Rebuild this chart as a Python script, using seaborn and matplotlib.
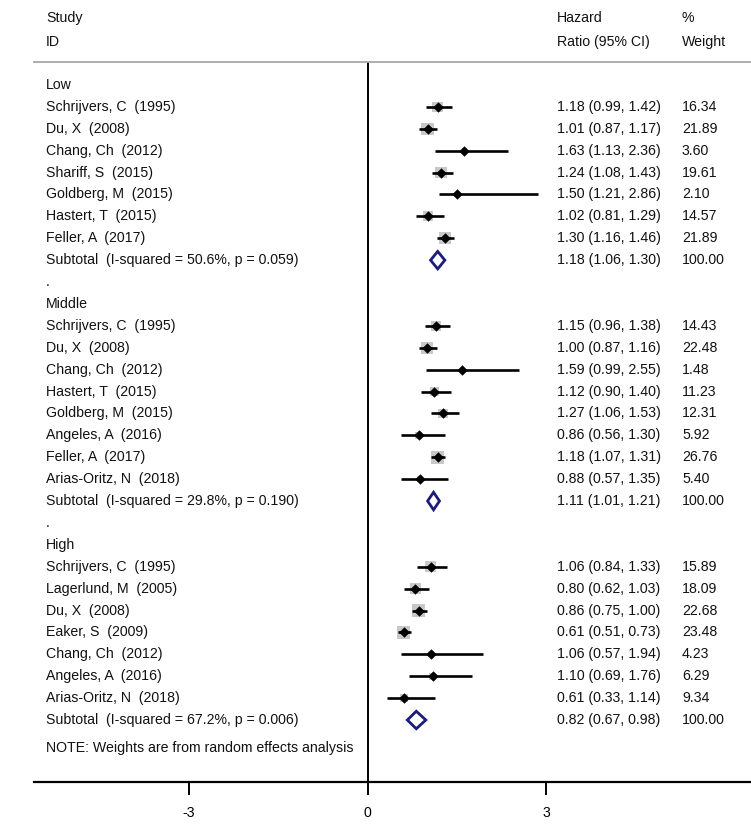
import numpy as np
import pandas as pd
import matplotlib
matplotlib.use("Agg")
import matplotlib.pyplot as plt
import seaborn as sns
from matplotlib.patches import Polygon

# ---- data ----
low_studies = ["Schrijvers, C  (1995)", "Du, X  (2008)", "Chang, Ch  (2012)", "Shariff, S  (2015)",
               "Goldberg, M  (2015)", "Hastert, T  (2015)", "Feller, A  (2017)"]
low_hr = [1.18, 1.01, 1.63, 1.24, 1.50, 1.02, 1.30]
low_lo = [0.99, 0.87, 1.13, 1.08, 1.21, 0.81, 1.16]
low_hi = [1.42, 1.17, 2.36, 1.43, 2.86, 1.29, 1.46]
low_wt = [16.34, 21.89, 3.60, 19.61, 2.10, 14.57, 21.89]
low_sub = (1.18, 1.06, 1.30, "Subtotal  (I-squared = 50.6%, p = 0.059)")

mid_studies = ["Schrijvers, C  (1995)", "Du, X  (2008)", "Chang, Ch  (2012)", "Hastert, T  (2015)",
               "Goldberg, M  (2015)", "Angeles, A  (2016)", "Feller, A  (2017)", "Arias-Oritz, N  (2018)"]
mid_hr = [1.15, 1.00, 1.59, 1.12, 1.27, 0.86, 1.18, 0.88]
mid_lo = [0.96, 0.87, 0.99, 0.90, 1.06, 0.56, 1.07, 0.57]
mid_hi = [1.38, 1.16, 2.55, 1.40, 1.53, 1.30, 1.31, 1.35]
mid_wt = [14.43, 22.48, 1.48, 11.23, 12.31, 5.92, 26.76, 5.40]
mid_sub = (1.11, 1.01, 1.21, "Subtotal  (I-squared = 29.8%, p = 0.190)")

high_studies = ["Schrijvers, C  (1995)", "Lagerlund, M  (2005)", "Du, X  (2008)", "Eaker, S  (2009)",
                "Chang, Ch  (2012)", "Angeles, A  (2016)", "Arias-Oritz, N  (2018)"]
high_hr = [1.06, 0.80, 0.86, 0.61, 1.06, 1.10, 0.61]
high_lo = [0.84, 0.62, 0.75, 0.51, 0.57, 0.69, 0.33]
high_hi = [1.33, 1.03, 1.00, 0.73, 1.94, 1.76, 1.14]
high_wt = [15.89, 18.09, 22.68, 23.48, 4.23, 6.29, 9.34]
high_sub = (0.82, 0.67, 0.98, "Subtotal  (I-squared = 67.2%, p = 0.006)")

groups = [("Low", low_studies, low_hr, low_lo, low_hi, low_wt, low_sub),
          ("Middle", mid_studies, mid_hr, mid_lo, mid_hi, mid_wt, mid_sub),
          ("High", high_studies, high_hr, high_lo, high_hi, high_wt, high_sub)]

x_ticks = [-3, 0, 3]

# build row table
rows = []
subtotals = []
headers = []
r = 0
for gi, (gname, studies, hr, lo, hi, wt, sub) in enumerate(groups):
    headers.append((r, gname))
    r += 1
    for s, h, l, u, w in zip(studies, hr, lo, hi, wt):
        rows.append({"row": r, "study": s, "hr": h, "lo": l, "hi": u, "weight": w})
        r += 1
    subtotals.append({"row": r, "hr": sub[0], "lo": sub[1], "hi": sub[2], "label": sub[3]})
    r += 1
    if gi < len(groups) - 1:
        headers.append((r, "."))
        r += 1
note_row = r + 0.3
df = pd.DataFrame(rows)
df_sub = pd.DataFrame(subtotals)

sns.set_style("white")
plt.rcParams["font.family"] = ["Liberation Sans", "DejaVu Sans"]
FS = 10.2

fig = plt.figure(figsize=(7.51, 8.24), dpi=100)
# axes from header line (y=62px) to axis line (y=782px), x from 34px to right edge
ax = fig.add_axes([34 / 751, 1 - 782 / 824, 1 - 34 / 751, (782 - 62) / 824])

px_unit = (546 - 189) / 6.0
x0 = 367.5
ax.set_xlim((34 - x0) / px_unit, (751 - x0) / px_unit)
row_px = (720 - 85) / 29.0
ax.set_ylim((782 - 85) / row_px, -(85 - 62) / row_px)

# null line
ax.axvline(0, color="black", lw=1.4, zorder=1)

# weight boxes (area ~ weight)
sns.scatterplot(data=df, x="hr", y="row", size="weight", sizes=(4, 95), size_norm=(0, 27),
                marker="s", color="#c8c8c8", edgecolor="none", legend=False, ax=ax, zorder=2)
# confidence intervals
ax.hlines(df["row"], df["lo"], df["hi"], color="black", lw=1.9, zorder=3)
# point estimates
sns.scatterplot(data=df, x="hr", y="row", marker="D", s=24, color="black",
                edgecolor="black", legend=False, ax=ax, zorder=4)

# subtotal diamonds
for _, s in df_sub.iterrows():
    d = Polygon([(s["lo"], s["row"]), (s["hr"], s["row"] - 0.4),
                 (s["hi"], s["row"]), (s["hr"], s["row"] + 0.4)],
                closed=True, fill=False, edgecolor="#1c1c7a", lw=2, zorder=4)
    ax.add_patch(d)

# text columns
x_lab = (46 - x0) / px_unit
x_hr = (557 - x0) / px_unit
x_wt = (682 - x0) / px_unit
kw = dict(fontsize=FS, va="center", ha="left", color="#111111", clip_on=False)
for rr, name in headers:
    ax.text(x_lab, rr, name, **kw)
for _, s in df.iterrows():
    ax.text(x_lab, s["row"], s["study"], **kw)
    ax.text(x_hr, s["row"], f"{s['hr']:.2f} ({s['lo']:.2f}, {s['hi']:.2f})", **kw)
    ax.text(x_wt, s["row"], f"{s['weight']:.2f}", **kw)
for _, s in df_sub.iterrows():
    ax.text(x_lab, s["row"], s["label"], **kw)
    ax.text(x_hr, s["row"], f"{s['hr']:.2f} ({s['lo']:.2f}, {s['hi']:.2f})", **kw)
    ax.text(x_wt, s["row"], "100.00", **kw)
ax.text(x_lab, note_row, "NOTE: Weights are from random effects analysis", **kw)

# header
y_h1 = (18 - 85) / row_px
y_h2 = (42 - 85) / row_px
ax.text(x_lab, y_h1, "Study", **kw)
ax.text(x_lab, y_h2, "ID", **kw)
ax.text(x_hr, y_h1, "Hazard", **kw)
ax.text(x_hr, y_h2, "Ratio (95% CI)", **kw)
ax.text(x_wt, y_h1, "%", **kw)
ax.text(x_wt, y_h2, "Weight", **kw)

# spines and axis
for side in ["left", "right"]:
    ax.spines[side].set_visible(False)
ax.spines["top"].set_color("#a8a8a8")
ax.spines["top"].set_linewidth(1.3)
ax.spines["bottom"].set_color("black")
ax.spines["bottom"].set_linewidth(1.6)
ax.set_xticks(x_ticks)
ax.set_xticklabels([str(t) for t in x_ticks])
ax.tick_params(axis="x", direction="out", length=9, width=1.4, colors="black",
               labelsize=FS, pad=8, bottom=True)
ax.set_yticks([])
ax.set_xlabel("")
ax.set_ylabel("")

fig.savefig("out.png", dpi=100)
